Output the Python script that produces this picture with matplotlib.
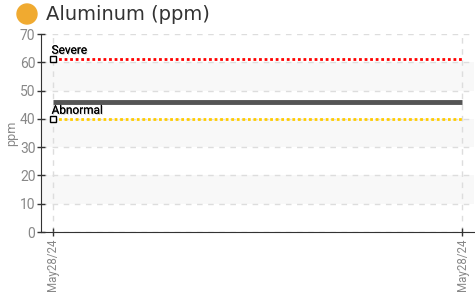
import matplotlib
matplotlib.use("Agg")
import matplotlib.pyplot as plt
import matplotlib.patheffects as pe
from matplotlib.patches import Circle
from matplotlib.transforms import IdentityTransform

# Data
dates = ["May28/24", "May28/24"]
values = [46, 46]
severe = [61, 61]
abnormal = [40, 40]
title = "Aluminum (ppm)"
yticks = [0, 10, 20, 30, 40, 50, 60, 70]
bands = [(10, 20), (30, 40), (50, 60)]

cond = ["Liberation Sans Narrow", "Roboto", "DejaVu Sans"]

fig = plt.figure(figsize=(4.75, 2.96), dpi=100)
W, H = 475, 296
ax = fig.add_axes([41 / W, 1 - 232 / H, (474 - 41) / W, (232 - 34) / H])

x = list(range(len(dates)))
ax.set_xlim(-0.0293, 1.0293)
ax.set_ylim(0, 70)

for lo, hi in bands:
    ax.axhspan(lo, hi, color="#f8f8f8", zorder=0, lw=0)

ax.set_yticks(yticks)
ax.set_xticks(x)
ax.set_xticklabels(dates, rotation=90, fontsize=8.3, color="#888888", family=cond)
for lab in ax.get_yticklabels():
    lab.set_family(cond)
ax.tick_params(axis="y", labelsize=10, labelcolor="#888888", direction="inout", length=6,
               width=1, color="#333333", pad=1)
ax.tick_params(axis="x", direction="inout", length=6, width=1, color="#333333", pad=1.5)

ax.grid(True, color="#dddddd", linestyle=(0, (4, 4)), linewidth=1)
ax.set_axisbelow(True)

for s in ["top", "right"]:
    ax.spines[s].set_visible(False)
ax.spines["left"].set_color("#333333")
ax.spines["bottom"].set_color("#333333")

ax.set_ylabel("ppm", color="#888888", fontsize=9, family=cond, labelpad=1)

ax.plot(x, values, color="#555555", lw=3.5, solid_capstyle="butt", zorder=3)
ax.plot(x, severe, color="#ff0000", lw=2, linestyle=(0, (1, 1)), zorder=4)
ax.plot(x, abnormal, color="#ffcc00", lw=2, linestyle=(0, (1, 1)), zorder=4)
ax.plot([x[0]], [severe[0]], marker="s", ms=4.5, mfc="white", mec="black", mew=1, zorder=5)
ax.plot([x[0]], [abnormal[0]], marker="s", ms=4.5, mfc="white", mec="black", mew=1, zorder=5)

eff = [pe.withSimplePatchShadow(offset=(0.6, -0.6), shadow_rgbFace="#999999", alpha=0.6), pe.Normal()]
ax.annotate("Severe", (x[0], severe[0]), xytext=(-1, 2), textcoords="offset points",
            fontsize=8.5, family=cond, color="black", ha="left", va="bottom", path_effects=eff, zorder=6)
ax.annotate("Abnormal", (x[0], abnormal[0]), xytext=(-1, 1.5), textcoords="offset points",
            fontsize=8.5, family=cond, color="black", ha="left", va="bottom", path_effects=eff, zorder=6)

fig.add_artist(Circle((27, H - 14), 10, transform=IdentityTransform(), color="#f0aa30", zorder=10))
fig.text(46 / W, 1 - 14 / H, title, fontsize=14, color="#333333", va="center", ha="left",
         family="DejaVu Sans")

fig.savefig("out.png", dpi=100)
